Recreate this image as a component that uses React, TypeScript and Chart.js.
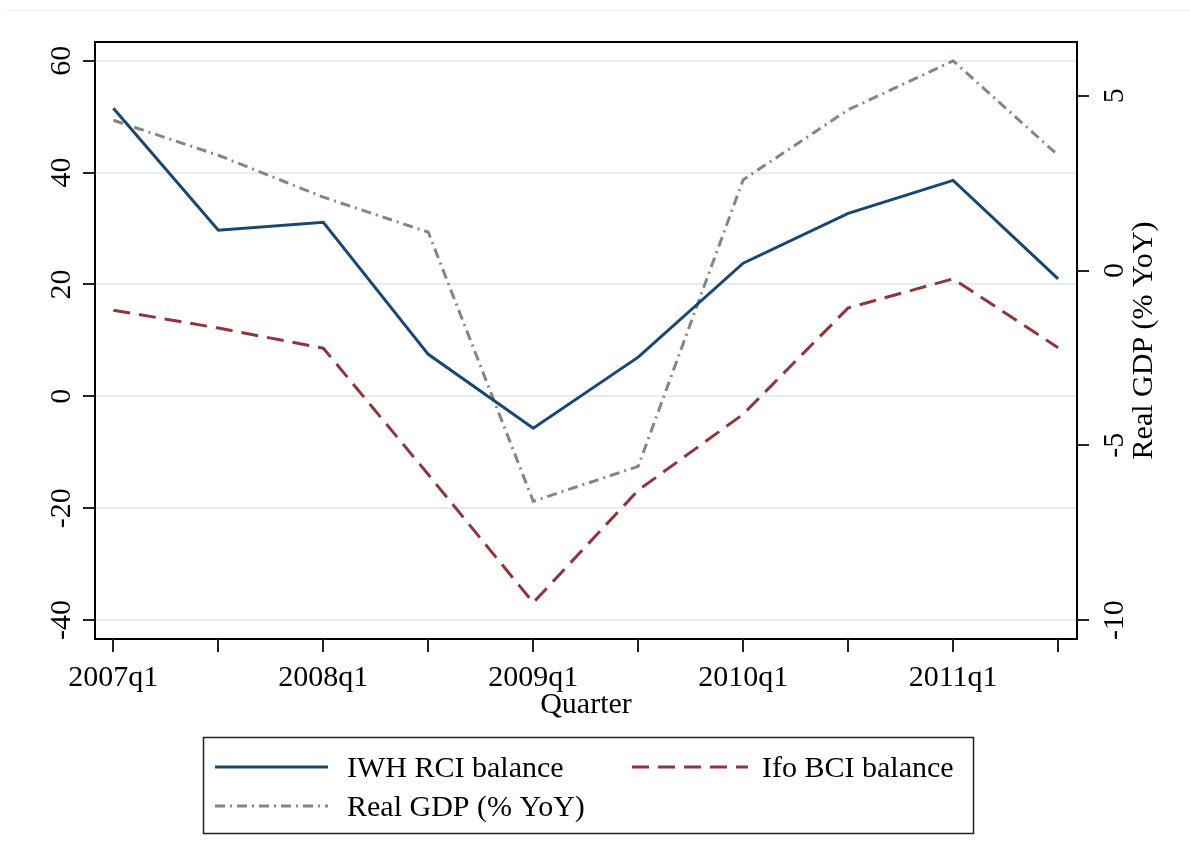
import React, { useEffect, useRef } from "react";
import { Chart, registerables } from "chart.js";

Chart.register(...registerables);

// Half-year positions: 2007q1, 2007q3, ..., 2011q3
const quarterPositions = [0, 1, 2, 3, 4, 5, 6, 7, 8, 9];
const xTickLabels = ["2007q1", "", "2008q1", "", "2009q1", "", "2010q1", "", "2011q1", ""];

const iwhRci = [51.5, 29.7, 31.1, 7.5, -5.7, 7.0, 23.8, 32.7, 38.6, 21.0];
const ifoBci = [15.4, 12.2, 8.6, -14.0, -36.9, -16.8, -3.2, 15.8, 21.0, 8.7];
const realGdp = [4.3, 3.3, 2.1, 1.1, -6.6, -5.6, 2.6, 4.6, 6.0, 3.3];

const leftTicks = [-40, -20, 0, 20, 40, 60];
const rightTicks = [-10, -5, 0, 5];

const seriesLabels = ["IWH RCI balance", "Ifo BCI balance", "Real GDP (% YoY)"];
const xTitle = "Quarter";
const rightTitle = "Real GDP (% YoY)";

const FONT = '30px "Liberation Serif", "Times New Roman", serif';

const stataPlugin = {
  id: "stataDecor",
  afterDraw(chart: any) {
    const { ctx, chartArea: a, scales } = chart;
    const xs = scales.x;
    const ys = scales.y;
    const y1s = scales.y1;
    ctx.save();

    // faint outer line at top
    ctx.strokeStyle = "#edf1f1";
    ctx.lineWidth = 1;
    ctx.beginPath();
    ctx.moveTo(7, 10.5);
    ctx.lineTo(1190, 10.5);
    ctx.stroke();

    // plot frame
    ctx.strokeStyle = "#000";
    ctx.lineWidth = 2;
    ctx.strokeRect(a.left, a.top, a.right - a.left, a.bottom - a.top);

    const seg = (x0: number, y0: number, x1: number, y1: number) => {
      ctx.beginPath();
      ctx.moveTo(x0, y0);
      ctx.lineTo(x1, y1);
      ctx.stroke();
    };

    // tick marks
    ctx.strokeStyle = "#222";
    ctx.lineWidth = 2;
    leftTicks.forEach((v) => {
      const py = Math.round(ys.getPixelForValue(v));
      seg(a.left - 12, py, a.left, py);
    });
    rightTicks.forEach((v) => {
      const py = Math.round(y1s.getPixelForValue(v));
      seg(a.right, py, a.right + 12, py);
    });
    quarterPositions.forEach((v) => {
      const px = Math.round(xs.getPixelForValue(v));
      seg(px, a.bottom, px, a.bottom + 13);
    });

    // labels
    ctx.fillStyle = "#000";
    ctx.font = FONT;
    const rotText = (t: string, x: number, y: number) => {
      ctx.save();
      ctx.translate(x, y);
      ctx.rotate(-Math.PI / 2);
      ctx.textAlign = "center";
      ctx.textBaseline = "alphabetic";
      ctx.fillText(t, 0, 0);
      ctx.restore();
    };
    leftTicks.forEach((v) => rotText(String(v), a.left - 25, ys.getPixelForValue(v)));
    rightTicks.forEach((v) => rotText(String(v), a.right + 46, y1s.getPixelForValue(v)));
    rotText(rightTitle, a.right + 75, (a.top + a.bottom) / 2);

    ctx.textAlign = "center";
    ctx.textBaseline = "alphabetic";
    quarterPositions.forEach((v, i) => {
      if (xTickLabels[i]) ctx.fillText(xTickLabels[i], xs.getPixelForValue(v), a.bottom + 47);
    });
    ctx.fillText(xTitle, (a.left + a.right) / 2, a.bottom + 74);

    // legend
    ctx.strokeStyle = "#222";
    ctx.lineWidth = 1.5;
    ctx.strokeRect(203.5, 737.5, 770, 96);
    const ds = chart.data.datasets;
    const sample = (d: any, x0: number, x1: number, yy: number) => {
      ctx.save();
      ctx.strokeStyle = d.borderColor;
      ctx.lineWidth = d.borderWidth;
      ctx.setLineDash(d.borderDash || []);
      seg(x0, yy, x1, yy);
      ctx.restore();
    };
    const entries = [
      { d: ds[0], x0: 215, x1: 328, ly: 767, tx: 347 },
      { d: ds[1], x0: 632, x1: 748, ly: 767, tx: 762 },
      { d: ds[2], x0: 215, x1: 328, ly: 806, tx: 347 },
    ];
    ctx.textAlign = "left";
    entries.forEach((e) => {
      sample(e.d, e.x0, e.x1, e.ly);
      ctx.fillStyle = "#000";
      ctx.fillText(e.d.label, e.tx, e.ly + 10);
    });

    ctx.restore();
  },
};

export default function App() {
  const canvasRef = useRef<HTMLCanvasElement | null>(null);

  useEffect(() => {
    if (!canvasRef.current) return;
    const toPts = (vals: number[]) => quarterPositions.map((q, i) => ({ x: q, y: vals[i] }));
    const chart = new Chart(canvasRef.current, {
      type: "line",
      data: {
        datasets: [
          {
            label: seriesLabels[0],
            data: toPts(iwhRci),
            yAxisID: "y",
            borderColor: "#1a476f",
            borderWidth: 3,
            pointRadius: 0,
            fill: false,
            tension: 0,
          },
          {
            label: seriesLabels[1],
            data: toPts(ifoBci),
            yAxisID: "y",
            borderColor: "#90353b",
            borderWidth: 3,
            borderDash: [17, 9],
            pointRadius: 0,
            fill: false,
            tension: 0,
          },
          {
            label: seriesLabels[2],
            data: toPts(realGdp),
            yAxisID: "y1",
            borderColor: "#858585",
            borderWidth: 3,
            borderDash: [10, 5, 2, 5],
            pointRadius: 0,
            fill: false,
            tension: 0,
          },
        ],
      },
      options: {
        responsive: false,
        animation: false,
        layout: { padding: { top: 42, left: 0, right: 0, bottom: 0 } },
        plugins: {
          legend: { display: false },
          tooltip: { enabled: false },
          title: { display: false },
        },
        scales: {
          x: {
            type: "linear",
            position: "bottom",
            min: -0.175,
            max: 9.18,
            ticks: { display: false },
            grid: { display: false },
            border: { display: false },
            afterFit: (s: any) => {
              s.height = 227;
            },
          },
          y: {
            type: "linear",
            position: "left",
            min: -43.4,
            max: 63.35,
            ticks: { display: false },
            grid: { color: "#e6eef1", lineWidth: 2, drawTicks: false },
            border: { display: false },
            afterBuildTicks: (s: any) => {
              s.ticks = leftTicks.map((v) => ({ value: v }));
            },
            afterFit: (s: any) => {
              s.width = 95;
            },
          },
          y1: {
            type: "linear",
            position: "right",
            min: -10.54,
            max: 6.54,
            ticks: { display: false },
            grid: { display: false },
            border: { display: false },
            afterFit: (s: any) => {
              s.width = 113;
            },
          },
        },
      } as any,
      plugins: [stataPlugin],
    });
    return () => chart.destroy();
  }, []);

  return (
    <div style={{ position: "absolute", left: 0, top: 0, width: 1190, height: 866, background: "#fff" }}>
      <canvas ref={canvasRef} width={1190} height={866} style={{ display: "block" }} />
    </div>
  );
}
